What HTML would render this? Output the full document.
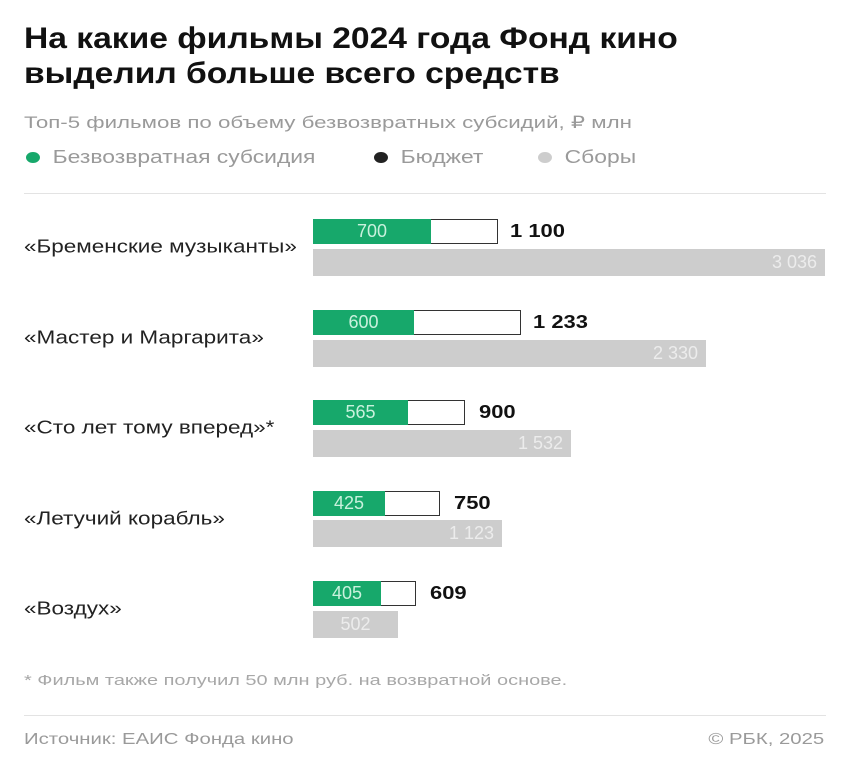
<!DOCTYPE html>
<html><head><meta charset="utf-8"><style>
body{margin:0;width:850px;height:757px;background:#fff;font-family:"Liberation Sans",sans-serif;position:relative;overflow:hidden}
.a{position:absolute;white-space:nowrap;transform-origin:left center;transform:scaleX(1.27)}
.t{left:24px;font-size:30px;font-weight:bold;color:#111;transform:scaleX(1.12)}
.lab{left:24px;font-size:18px;color:#222;transform:translateY(-50%) scaleX(1.25)}
.b{position:absolute;left:313px;height:25px;box-sizing:border-box;border:1.5px solid #333;background:#fff}
.g{position:absolute;left:313px;height:25px;background:#17a86b;color:#c9f1dd;font-size:18px;text-align:center;line-height:25px}
.s{position:absolute;left:313px;height:27px;background:#cdcdcd;color:#ececec;font-size:18px;text-align:right;line-height:27px;box-sizing:border-box;padding-right:8px}
.v{position:absolute;font-size:18px;font-weight:bold;color:#111;line-height:25px;transform-origin:left center;transform:scaleX(1.22)}
.dot{display:inline-block;width:11px;height:11px;border-radius:50%;margin-right:10px;vertical-align:0px}
</style></head><body>
<div class="a t" style="top:22px">На какие фильмы 2024 года Фонд кино</div>
<div class="a t" style="top:57px">выделил больше всего средств</div>
<div class="a" style="left:24px;top:113px;font-size:17px;color:#9a9a9a;transform:scaleX(1.31)">Топ-5 фильмов по объему безвозвратных субсидий, ₽ млн</div>
<div class="a" style="left:26px;top:147px;font-size:18px;color:#9a9a9a"><span class="dot" style="background:#17a86b"></span>Безвозвратная субсидия</div>
<div class="a" style="left:374px;top:147px;font-size:18px;color:#9a9a9a"><span class="dot" style="background:#222"></span>Бюджет</div>
<div class="a" style="left:538px;top:147px;font-size:18px;color:#9a9a9a"><span class="dot" style="background:#cdcdcd"></span>Сборы</div>
<div style="position:absolute;left:24px;top:193px;width:802px;height:1px;background:#e3e3e3"></div>

<div class="a lab" style="top:247px">«Бременские музыканты»</div>
<div class="b" style="top:219px;width:185px"></div><div class="g" style="top:219px;width:118px">700</div>
<div class="v" style="top:219px;left:510px">1 100</div>
<div class="s" style="top:249px;width:512px">3 036</div>

<div class="a lab" style="top:338px">«Мастер и Маргарита»</div>
<div class="b" style="top:310px;width:208px"></div><div class="g" style="top:310px;width:101px">600</div>
<div class="v" style="top:310px;left:533px">1 233</div>
<div class="s" style="top:340px;width:393px">2 330</div>

<div class="a lab" style="top:428px">«Сто лет тому вперед»*</div>
<div class="b" style="top:400px;width:152px"></div><div class="g" style="top:400px;width:95px">565</div>
<div class="v" style="top:400px;left:479px">900</div>
<div class="s" style="top:430px;width:258px">1 532</div>

<div class="a lab" style="top:519px">«Летучий корабль»</div>
<div class="b" style="top:491px;width:127px"></div><div class="g" style="top:491px;width:72px">425</div>
<div class="v" style="top:491px;left:454px">750</div>
<div class="s" style="top:520px;width:189px">1 123</div>

<div class="a lab" style="top:609px">«Воздух»</div>
<div class="b" style="top:581px;width:103px"></div><div class="g" style="top:581px;width:68px">405</div>
<div class="v" style="top:581px;left:430px">609</div>
<div class="s" style="top:611px;width:85px;text-align:center;padding:0">502</div>

<div class="a" style="left:24px;top:672px;font-size:15px;color:#a8a8a8;transform:scaleX(1.33)">* Фильм также получил 50 млн руб. на возвратной основе.</div>
<div style="position:absolute;left:24px;top:715px;width:802px;height:1px;background:#e3e3e3"></div>
<div class="a" style="left:24px;top:731px;font-size:16px;color:#9a9a9a">Источник: ЕАИС Фонда кино</div>
<div class="a" style="right:26px;top:731px;font-size:16px;color:#9a9a9a;transform-origin:right center">© РБК, 2025</div>
</body></html>
